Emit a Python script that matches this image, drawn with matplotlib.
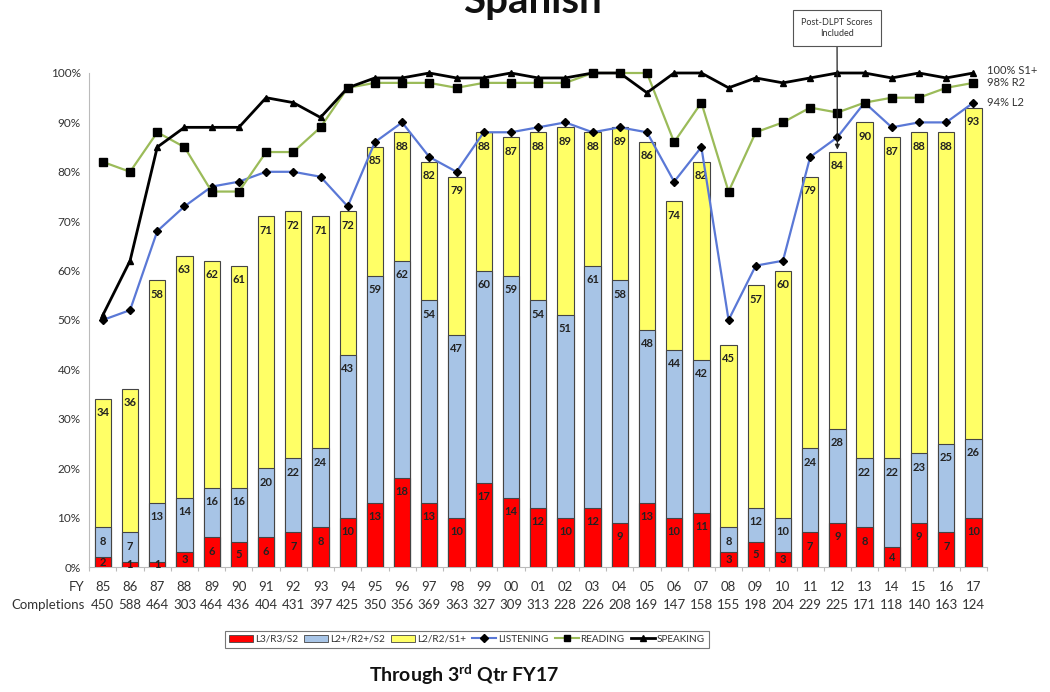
import matplotlib
matplotlib.use("Agg")
import matplotlib.pyplot as plt
from matplotlib.lines import Line2D
from matplotlib.patches import Patch
import matplotlib.transforms as mtransforms
import numpy as np

plt.rcParams['font.family'] = ['Lato', 'DejaVu Sans']
plt.rcParams['mathtext.fontset'] = 'custom'
plt.rcParams['mathtext.rm'] = 'Lato:bold'

fy = ["85", "86", "87", "88", "89", "90", "91", "92", "93", "94", "95", "96", "97", "98", "99", "00",
      "01", "02", "03", "04", "05", "06", "07", "08", "09", "10", "11", "12", "13", "14", "15", "16", "17"]
completions = [450, 588, 464, 303, 464, 436, 404, 431, 397, 425, 350, 356, 369, 363, 327, 309,
               313, 228, 226, 208, 169, 147, 158, 155, 198, 204, 229, 225, 171, 118, 140, 163, 124]
l2_r2_s1 = [34, 36, 58, 63, 62, 61, 71, 72, 71, 72, 85, 88, 82, 79, 88, 87,
            88, 89, 88, 89, 86, 74, 82, 45, 57, 60, 79, 84, 90, 87, 88, 88, 93]
l2p_r2p_s2 = [8, 7, 13, 14, 16, 16, 20, 22, 24, 43, 59, 62, 54, 47, 60, 59,
              54, 51, 61, 58, 48, 44, 42, 8, 12, 10, 24, 28, 22, 22, 23, 25, 26]
l3_r3_s2 = [2, 1, 1, 3, 6, 5, 6, 7, 8, 10, 13, 18, 13, 10, 17, 14,
            12, 10, 12, 9, 13, 10, 11, 3, 5, 3, 7, 9, 8, 4, 9, 7, 10]
listening = [50, 52, 68, 73, 77, 78, 80, 80, 79, 73, 86, 90, 83, 80, 88, 88,
             89, 90, 88, 89, 88, 78, 85, 50, 61, 62, 83, 87, 94, 89, 90, 90, 94]
reading = [82, 80, 88, 85, 76, 76, 84, 84, 89, 97, 98, 98, 98, 97, 98, 98,
           98, 98, 100, 100, 100, 86, 94, 76, 88, 90, 93, 92, 94, 95, 95, 97, 98]
speaking = [51, 62, 85, 89, 89, 89, 95, 94, 91, 97, 99, 99, 100, 99, 99, 100,
            99, 99, 100, 100, 96, 100, 100, 97, 99, 98, 99, 100, 100, 99, 100, 99, 100]
end_labels = ["100% S1+", "98% R2", "94% L2"]

C_RED = "#FF0000"
C_BLUE = "#A7C4E6"
C_YEL = "#FFFF66"
C_LIS = "#5A78D6"
C_READ = "#9BBB59"

W, H = 1050, 692
fig = plt.figure(figsize=(W / 100, H / 100), dpi=100)
ax = fig.add_axes([89 / W, 1 - 567 / H, (987 - 89) / W, (567 - 73) / H])

x = np.arange(len(fy))
bw = 0.6
ax.bar(x, l2_r2_s1, bw, color=C_YEL, edgecolor="#444444", linewidth=0.8, zorder=2)
ax.bar(x, l2p_r2p_s2, bw, color=C_BLUE, edgecolor="#444444", linewidth=0.8, zorder=3)
ax.bar(x, l3_r3_s2, bw, color=C_RED, edgecolor="#444444", linewidth=0.8, zorder=4)

for series in (l2_r2_s1, l2p_r2p_s2, l3_r3_s2):
    for xi, v in zip(x, series):
        yv = max(v - 2.8, v / 2)
        ax.text(xi, yv, str(v), ha="center", va="center", fontsize=8,
                fontweight="bold", color="#222222", zorder=5)

ax.plot(x, listening, color=C_LIS, lw=1.6, marker="D", ms=4.5, mfc="black", mec="black",
        zorder=6, clip_on=False)
ax.plot(x, reading, color=C_READ, lw=1.6, marker="s", ms=6, mfc="black", mec="black",
        zorder=7, clip_on=False)
ax.plot(x, speaking, color="black", lw=2.0, marker="^", ms=5, mfc="black", mec="black",
        zorder=8, clip_on=False)

ax.set_xlim(-0.51, 32.38)
ax.set_ylim(0, 100)
ax.set_yticks(np.arange(0, 101, 10))
ax.set_yticklabels([f"{v}%" for v in range(0, 101, 10)], fontsize=8.5, color="#333333")
ax.tick_params(axis="y", length=0, pad=6)
ax.set_xticks(np.arange(-0.5, 32.6, 1))
ax.set_xticklabels([])
ax.tick_params(axis="x", length=3, color="#bbbbbb", direction="out")
for s in ("top", "right"):
    ax.spines[s].set_visible(False)
ax.spines["left"].set_color("#bbbbbb")
ax.spines["bottom"].set_color("#bbbbbb")

trans = mtransforms.blended_transform_factory(ax.transData, ax.transAxes)
y_fy = -(587 - 567) / (567 - 73)
y_cp = -(605 - 567) / (567 - 73)
for xi, f, c in zip(x, fy, completions):
    ax.text(xi, y_fy, f, transform=trans, ha="center", va="center", fontsize=9.5, color="#333333")
    ax.text(xi, y_cp, str(c), transform=trans, ha="center", va="center", fontsize=9.5, color="#333333")
ax.text(85 / W, 1 - 587 / H, "FY", transform=fig.transFigure, ha="right", va="center",
        fontsize=9.5, color="#333333")
ax.text(85 / W, 1 - 605 / H, "Completions", transform=fig.transFigure, ha="right", va="center",
        fontsize=9.5, color="#333333")

# End labels
for lab, yv in zip(end_labels, (100.5, 98.0, 94.0)):
    ax.text(32.5, yv, lab, ha="left", va="center", fontsize=8, color="#333333", clip_on=False)

# Annotation
ax.annotate("Post-DLPT Scores\nIncluded", xy=(27, 84.5), xycoords="data",
            xytext=(837 / W, 1 - 28 / H), textcoords="figure fraction",
            ha="center", va="center", fontsize=6.5, color="#333333",
            bbox=dict(boxstyle="square,pad=0.9", fc="white", ec="#555555", lw=0.8),
            arrowprops=dict(arrowstyle="-|>", color="#222222", lw=0.9, mutation_scale=7,
                            shrinkA=0, shrinkB=0),
            zorder=10)

# Title (cut off at top, as in the reference)
fig.text(532 / W, 1 - 13 / H, "Spanish", ha="center", va="baseline", fontsize=29,
         fontweight="bold", color="#111111")

# Legend
handles = [
    Patch(facecolor=C_RED, edgecolor="#444444", lw=0.6, label="L3/R3/S2"),
    Patch(facecolor=C_BLUE, edgecolor="#444444", lw=0.6, label="L2+/R2+/S2"),
    Patch(facecolor=C_YEL, edgecolor="#444444", lw=0.6, label="L2/R2/S1+"),
    Line2D([0], [0], color=C_LIS, lw=1.5, marker="D", ms=4, mfc="black", mec="black", label="LISTENING"),
    Line2D([0], [0], color=C_READ, lw=1.5, marker="s", ms=5, mfc="black", mec="black", label="READING"),
    Line2D([0], [0], color="black", lw=2, marker="^", ms=5, mfc="black", mec="black", label="SPEAKING"),
]
leg = fig.legend(handles=handles, loc="center", bbox_to_anchor=(467 / W, 1 - 639 / H), ncol=6,
                 fontsize=7.2, frameon=True, fancybox=False, edgecolor="#555555",
                 handlelength=2.4, handletextpad=0.2, columnspacing=0.6, borderpad=0.4)
leg.get_frame().set_linewidth(0.8)
for t in leg.get_texts():
    t.set_color("#333333")

fig.text(464 / W, 1 - 675 / H, r"Through 3$^{\mathrm{rd}}$ Qtr FY17", ha="center", va="center",
         fontsize=14, fontweight="bold", color="#111111")

fig.savefig("out.png", dpi=100)
